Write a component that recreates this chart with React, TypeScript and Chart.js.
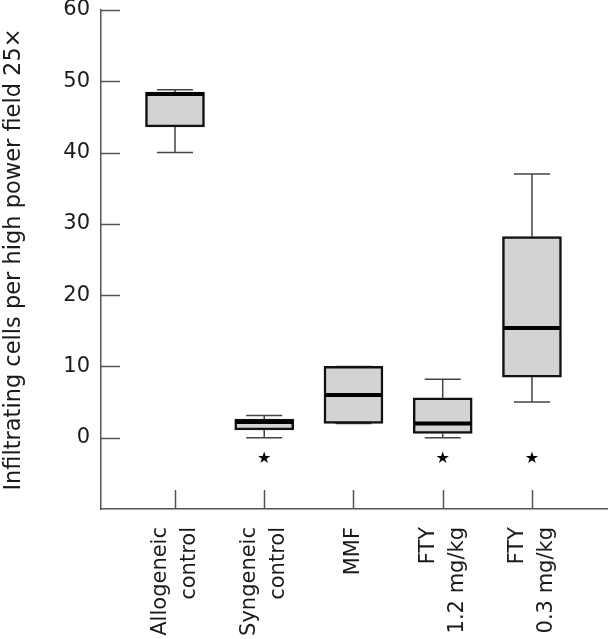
import React, { useEffect, useRef } from 'react';
import { Chart, registerables } from 'chart.js';

Chart.register(...registerables);

// ---- data ----
const categories: string[][] = [
  ['Allogeneic', 'control'],
  ['Syngeneic', 'control'],
  ['MMF'],
  ['FTY', '1.2 mg/kg'],
  ['FTY', '0.3 mg/kg'],
];
const positions = [1, 2, 3, 4, 5];
const mins = [40, 0, 2, 0, 5];
const q1s = [43.6, 1.1, 2, 0.6, 8.5];
const medians = [48.2, 2.2, 6, 2, 15.4];
const q3s = [48.5, 2.6, 10, 5.6, 28.2];
const maxs = [48.8, 3.1, 10, 8.2, 37];
const starPositions = [2, 4, 5];
const starValue = -3;
const yTicks = [0, 10, 20, 30, 40, 50, 60];
const yTitle = 'Infiltrating cells per high power field 25\u00d7';

const FONT = '"DejaVu Sans", sans-serif';

const boxPlugin = {
  id: 'boxExtras',
  beforeDatasetsDraw(chart: any) {
    const { ctx, scales } = chart;
    const x = scales.x, y = scales.y;
    ctx.save();
    ctx.strokeStyle = '#444';
    ctx.lineWidth = 1.5;
    const half = 18;
    positions.forEach((p, i) => {
      const px = x.getPixelForValue(p);
      const yMax = y.getPixelForValue(maxs[i]);
      const yQ3 = y.getPixelForValue(q3s[i]);
      const yMin = y.getPixelForValue(mins[i]);
      const yQ1 = y.getPixelForValue(q1s[i]);
      ctx.beginPath();
      ctx.moveTo(px, yMax); ctx.lineTo(px, yQ3);
      ctx.moveTo(px, yMin); ctx.lineTo(px, yQ1);
      ctx.moveTo(px - half, yMax); ctx.lineTo(px + half, yMax);
      ctx.moveTo(px - half, yMin); ctx.lineTo(px + half, yMin);
      ctx.stroke();
    });
    ctx.restore();
  },
  afterDatasetsDraw(chart: any) {
    const { ctx, scales, chartArea } = chart;
    const x = scales.x, y = scales.y;
    ctx.save();
    // medians
    ctx.strokeStyle = '#000';
    ctx.lineWidth = 4;
    const bw = 59;
    positions.forEach((p, i) => {
      const px = x.getPixelForValue(p);
      const py = y.getPixelForValue(medians[i]);
      ctx.beginPath();
      ctx.moveTo(px - bw / 2 + 1, py);
      ctx.lineTo(px + bw / 2 - 1, py);
      ctx.stroke();
    });
    // inside tick marks
    ctx.strokeStyle = '#555';
    ctx.lineWidth = 1.5;
    ctx.beginPath();
    yTicks.forEach((v) => {
      const py = Math.round(y.getPixelForValue(v)) + 0.5;
      ctx.moveTo(chartArea.left, py);
      ctx.lineTo(chartArea.left + 19, py);
    });
    positions.forEach((p) => {
      const px = Math.round(x.getPixelForValue(p)) + 0.5;
      ctx.moveTo(px, chartArea.bottom);
      ctx.lineTo(px, chartArea.bottom - 19);
    });
    ctx.stroke();
    // stars
    ctx.fillStyle = '#000';
    ctx.font = '16px ' + FONT;
    ctx.textAlign = 'center';
    ctx.textBaseline = 'middle';
    starPositions.forEach((p) => {
      ctx.fillText('\u2605', x.getPixelForValue(p), y.getPixelForValue(starValue));
    });
    // category labels (rotated)
    ctx.fillStyle = '#1a1a1a';
    ctx.font = '21px ' + FONT;
    ctx.textAlign = 'right';
    ctx.textBaseline = 'middle';
    const lh = 29;
    positions.forEach((p, i) => {
      const lines = categories[i];
      ctx.save();
      ctx.translate(x.getPixelForValue(p), chartArea.bottom + 18);
      ctx.rotate(-Math.PI / 2);
      lines.forEach((line, j) => {
        ctx.fillText(line, 0, (j - (lines.length - 1) / 2) * lh);
      });
      ctx.restore();
    });
    ctx.restore();
  },
};

export default function App() {
  const ref = useRef<HTMLCanvasElement | null>(null);
  useEffect(() => {
    document.body.style.margin = '0';
    const canvas = ref.current;
    if (!canvas) return;
    const chart = new Chart(canvas, {
      type: 'bar',
      data: {
        datasets: [
          {
            data: positions.map((p, i) => ({ x: p, y: [q1s[i], q3s[i]] })) as any,
            backgroundColor: '#d3d3d3',
            borderColor: '#111',
            borderWidth: 2.5,
            borderSkipped: false,
            barThickness: 59,
          },
        ],
      },
      options: {
        animation: false,
        responsive: true,
        maintainAspectRatio: false,
        layout: { padding: { top: 10, right: 0, left: 0, bottom: 0 } },
        plugins: { legend: { display: false }, tooltip: { enabled: false } },
        scales: {
          x: {
            type: 'linear',
            offset: false,
            min: 0.171,
            max: 5.852,
            grid: { display: true, drawOnChartArea: false, drawTicks: false, offset: false },
            border: { display: true, color: '#555', width: 1.5 },
            ticks: { display: false },
            afterFit: (s: any) => { s.height = 130; s.paddingLeft = 0; s.paddingRight = 0; },
          },
          y: {
            type: 'linear',
            min: -10,
            max: 60,
            grid: { display: true, drawOnChartArea: false, drawTicks: false },
            border: { display: true, color: '#555', width: 1.5 },
            afterBuildTicks: (s: any) => { s.ticks = yTicks.map((v) => ({ value: v })); },
            ticks: {
              padding: 11,
              color: '#1a1a1a',
              font: { family: FONT, size: 21 },
            },
            title: {
              display: true,
              text: yTitle,
              color: '#1a1a1a',
              font: { family: FONT, size: 22.5 },
              padding: { top: 1, bottom: 0 },
            },
            afterFit: (s: any) => { s.width = 101; s.paddingTop = 0; s.paddingBottom = 0; },
          },
        },
      },
      plugins: [boxPlugin],
    });
    return () => chart.destroy();
  }, []);
  return (
    <div style={{ width: 608, height: 639, position: 'relative', background: '#fff' }}>
      <canvas ref={ref} />
    </div>
  );
}
